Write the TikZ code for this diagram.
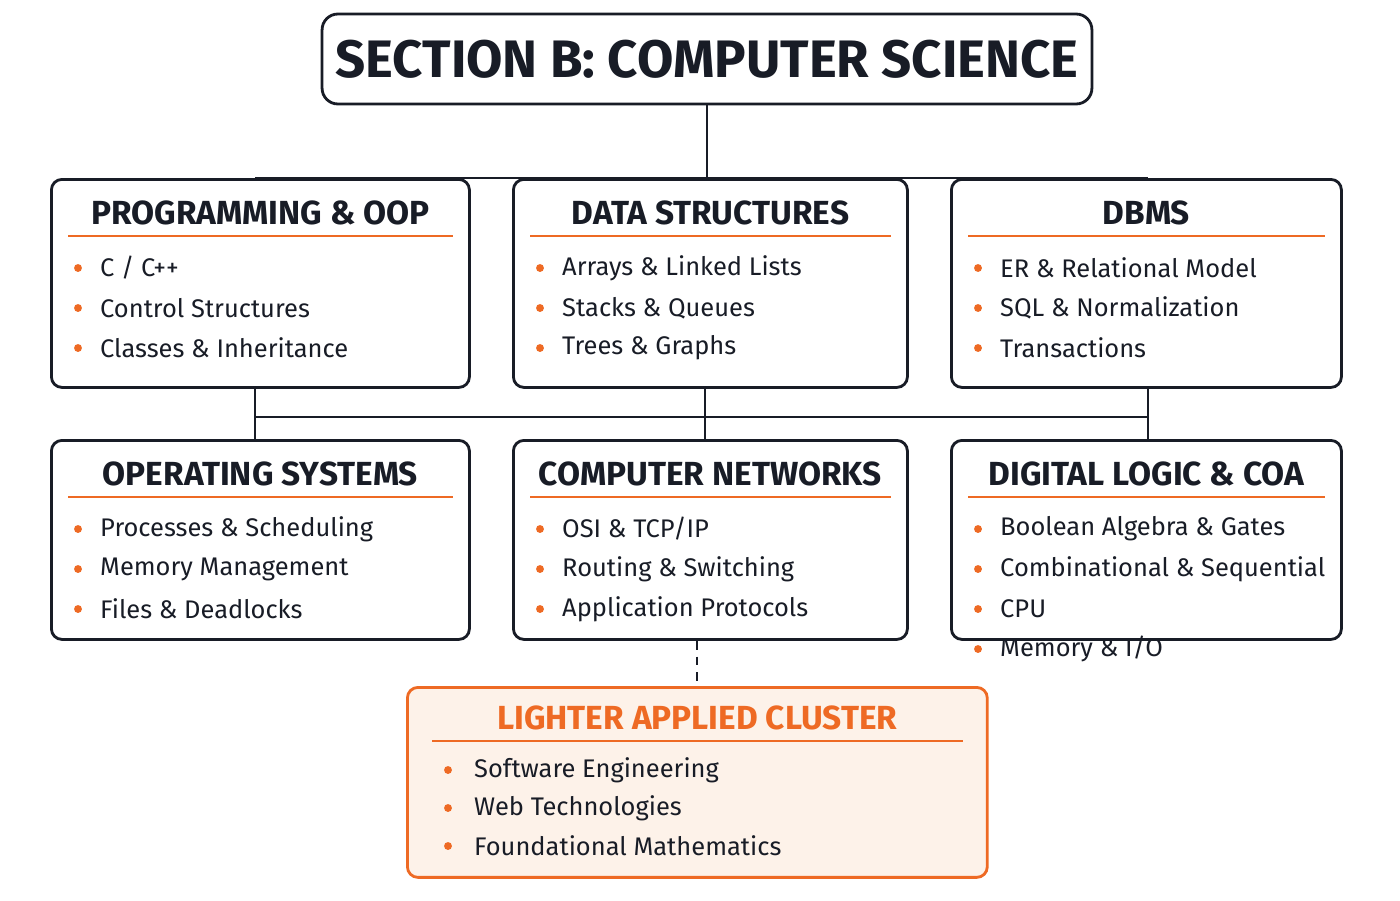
\documentclass[tikz,border=0pt]{standalone}
\usepackage{fontspec}
\setmainfont{Fira Sans}
\usetikzlibrary{positioning}
\definecolor{accent}{RGB}{238,106,36}
\definecolor{ink}{RGB}{24,28,38}
\definecolor{peach}{RGB}{253,242,233}
\tikzset{
  box/.style={draw=ink, line width=1.6pt, rounded corners=6pt, fill=white, anchor=north west},
  hot/.style={box, draw=accent, fill=peach},
  head/.style={font=\fontsize{19}{20}\selectfont\bfseries, text=ink},
  item/.style={font=\fontsize{14.5}{16}\selectfont, text=ink, anchor=west},
  dot/.style={circle, fill=accent, inner sep=0pt, minimum size=4.5pt},
  rule/.style={draw=accent, line width=1.2pt},
  link/.style={draw=ink, line width=1.6pt}}
% #1 name, #2 x, #3 y, #4 width, #5 height, #6 header, #7-#9 items
\newcommand{\topic}[9]{%
  \node (#1) [box, minimum width=#4*0.02cm, minimum height=#5*0.02cm] at (#2,#3) {};
  \node (#1h) [head] at ($(#1.north)+(0,35)$) {#6};
  \draw[rule] ($(#1.north west)+(18,58)$) -- ($(#1.north east)+(-18,58)$);
  \foreach \t [count=\k] in {#7,#8,#9} {
    \node [dot] at ($(#1.north west)+(28,50+40*\k)$) {};
    \node [item] at ($(#1.north west)+(44,50+40*\k)$) {\t};
  }}
\usetikzlibrary{calc}
\begin{document}
\begin{tikzpicture}[x=0.02cm, y=-0.02cm]
\useasboundingbox (0,0) rectangle (1400,900);
% title
\node (title) [box, rounded corners=9pt, minimum width=15.4cm, minimum height=1.8cm,
  anchor=center, font=\fontsize{30}{32}\selectfont\bfseries, text=ink]
  at (707,59) {SECTION B: COMPUTER SCIENCE};
% topics
\topic{prog}{50}{178}{418}{208}{PROGRAMMING \& OOP}{C / C++}{Control Structures}{Classes \& Inheritance}
\topic{ds}{512}{178}{394}{208}{DATA STRUCTURES}{Arrays \& Linked Lists}{Stacks \& Queues}{Trees \& Graphs}
\topic{db}{950}{178}{390}{208}{DBMS}{ER \& Relational Model}{SQL \& Normalization}{Transactions}
\topic{os}{50}{439}{418}{199}{OPERATING SYSTEMS}{Processes \& Scheduling}{Memory Management}{Files \& Deadlocks}
\topic{cn}{512}{439}{394}{199}{COMPUTER NETWORKS}{OSI \& TCP/IP}{Routing \& Switching}{Application Protocols}
\topic{dl}{950}{439}{390}{199}{DIGITAL LOGIC \& COA}{Boolean Algebra \& Gates}{Combinational \& Sequential}{CPU, Memory \& I/O}
% applied cluster
\node (app) [hot, minimum width=11.6cm, minimum height=3.8cm] at (406,686) {};
\node (apph) [head, text=accent] at ($(app.north)+(0,32)$) {LIGHTER APPLIED CLUSTER};
\draw[rule] ($(app.north west)+(26,55)$) -- ($(app.north east)+(-26,55)$);
\foreach \t [count=\k] in {Software Engineering, Web Technologies, Foundational Mathematics} {
  \node [dot] at ($(app.north west)+(42,46+38*\k)$) {};
  \node [item] at ($(app.north west)+(62,46+38*\k)$) {\t};
}
% connectors
\coordinate (j1) at (title.south |- 0,146);
\draw[link] (title.south) -- (j1);
\draw[link] (prog.north -| 255,0) |- (db.north -| 1148,146) -- (db.north -| 1148,0);
\draw[link] (j1) -- (ds.north -| j1);
\coordinate (j2) at (705,417);
\draw[link] (prog.south -| 255,0) -- (os.north -| 255,0);
\draw[link] (db.south -| 1148,0) -- (dl.north -| 1148,0);
\draw[link] (ds.south -| j2) -- (cn.north -| j2);
\draw[link] (255,417) -- (1148,417);
\draw[link, dashed, dash pattern=on 5pt off 4pt] (cn.south -| 697,0) -- (app.north -| 697,0);
\end{tikzpicture}
\end{document}
